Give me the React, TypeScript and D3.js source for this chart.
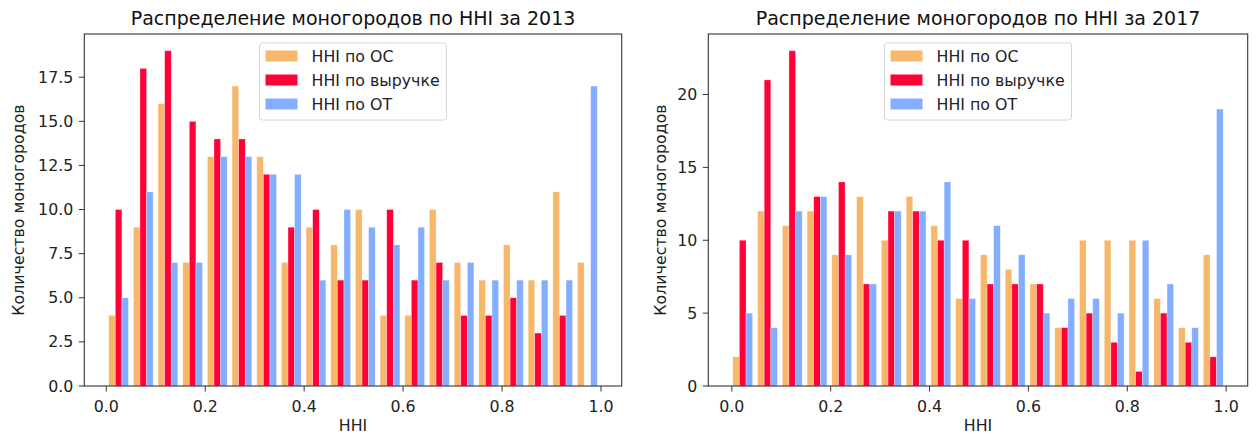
// Two side-by-side histograms of HHI distribution across single-industry towns (2013 vs 2017)

import React from 'react';
import * as d3 from 'd3';

// series names and colours, shared by both panels
const seriesNames = ['HHI по ОС', 'HHI по выручке', 'HHI по ОТ'];
const seriesColors = ['#F6B76B', '#FF0037', '#85ADFF'];

// 2013 panel: counts per bin (20 bins)
const os2013 = [4, 9, 16, 7, 13, 17, 13, 7, 9, 8, 10, 4, 4, 10, 7, 6, 8, 6, 11, 7];
const revenue2013 = [10, 18, 19, 15, 14, 14, 12, 9, 10, 6, 6, 10, 6, 7, 4, 4, 5, 3, 4, 0];
const labor2013 = [5, 11, 7, 7, 13, 13, 12, 12, 6, 10, 9, 8, 9, 6, 7, 6, 6, 6, 6, 17];
const binRange2013 = [0, 0.9975];
const yTicks2013 = [0, 2.5, 5, 7.5, 10, 12.5, 15, 17.5];

// 2017 panel
const os2017 = [2, 12, 11, 12, 9, 13, 10, 13, 11, 6, 9, 8, 7, 4, 10, 10, 10, 6, 4, 9];
const revenue2017 = [10, 21, 23, 13, 14, 7, 12, 12, 10, 10, 7, 7, 7, 4, 5, 3, 1, 5, 3, 2];
const labor2017 = [5, 4, 12, 13, 9, 7, 12, 12, 14, 6, 11, 9, 5, 6, 6, 5, 10, 7, 4, 19];
const binRange2017 = [-0.003, 0.999];
const yTicks2017 = [0, 5, 10, 15, 20];

const xTicks = [0, 0.2, 0.4, 0.6, 0.8, 1.0];

const FONT = '"DejaVu Sans", sans-serif';
const FS = 15.8; // 10pt at the figure's dpi
const width = 1257, height = 434;

type PanelProps = {
  title: string;
  series: number[][];
  binRange: number[];
  yTicks: number[];
  yFormat: (v: number) => string;
  left: number;
  right: number;
  yLabelX: number;
};

const Panel = ({ title, series, binRange, yTicks, yFormat, left, right, yLabelX }: PanelProps) => {
  const top = 34, bottom = 386;
  const nBins = series[0].length;
  const bw = (binRange[1] - binRange[0]) / nBins;
  const barW = (0.8 * bw) / series.length;

  // matplotlib autoscale: bar extents plus 5% margins
  const dataMin = binRange[0] + 0.1 * bw;
  const dataMax = binRange[1] - 0.1 * bw;
  const pad = 0.05 * (dataMax - dataMin);
  const x = d3.scaleLinear().domain([dataMin - pad, dataMax + pad]).range([left, right]);

  const yMax = d3.max(series, s => d3.max(s)) as number;
  const y = d3.scaleLinear().domain([0, yMax * 1.05]).range([bottom, top]);

  const cx = (left + right) / 2;
  const legendW = 187, legendH = 77;
  const lx = cx - legendW / 2, ly = 43;

  return (
    <g fontFamily={FONT}>
      {/* bars */}
      {series.map((s, k) =>
        s.map((v, i) => {
          const x0 = binRange[0] + i * bw + 0.1 * bw + k * barW;
          const px0 = x(x0), px1 = x(x0 + barW);
          return v > 0 ? (
            <rect key={`${k}-${i}`} x={px0} y={y(v)} width={px1 - px0} height={bottom - y(v)}
              fill={seriesColors[k]} stroke="#fff" strokeOpacity={0.5} strokeWidth={0.6} />
          ) : null;
        })
      )}
      {/* spines */}
      <rect x={left} y={top} width={right - left} height={bottom - top} fill="none" stroke="#333" strokeWidth={1.1} />
      {/* x ticks */}
      {xTicks.map(t => (
        <g key={t} transform={`translate(${x(t)},${bottom})`}>
          <line y2={5.5} stroke="#333" />
          <text y={25.5} textAnchor="middle" fontSize={FS} fill="#222">{t.toFixed(1)}</text>
        </g>
      ))}
      {/* y ticks */}
      {yTicks.map(t => (
        <g key={t} transform={`translate(${left},${y(t)})`}>
          <line x2={-5.5} stroke="#333" />
          <text x={-11} dy="0.35em" textAnchor="end" fontSize={FS} fill="#222">{yFormat(t)}</text>
        </g>
      ))}
      {/* title and axis labels */}
      <text x={cx} y={top - 9.5} textAnchor="middle" fontSize={19} fill="#111">{title}</text>
      <text x={cx} y={431} textAnchor="middle" fontSize={FS} fill="#222">HHI</text>
      <text transform={`translate(${yLabelX},${(top + bottom) / 2}) rotate(-90)`} dy="0.35em"
        textAnchor="middle" fontSize={FS} fill="#222">Количество моногородов</text>
      {/* legend */}
      <rect x={lx} y={ly} width={legendW} height={legendH} rx={3} fill="#fff" fillOpacity={0.8} stroke="#d6d6d6" />
      {seriesNames.map((name, k) => (
        <g key={name} transform={`translate(${lx + 6},${ly + 13 + k * 24})`}>
          <rect y={-5.5} width={32} height={11} fill={seriesColors[k]} />
          <text x={46} dy="0.35em" fontSize={FS} fill="#222">{name}</text>
        </g>
      ))}
    </g>
  );
};

export default function App() {
  return (
    <svg width={width} height={height} style={{ position: 'absolute', left: 0, top: 0, background: '#fff' }}>
      <Panel title="Распределение моногородов по HHI за 2013"
        series={[os2013, revenue2013, labor2013]} binRange={binRange2013}
        yTicks={yTicks2013} yFormat={v => v.toFixed(1)} left={84.3} right={621.7} yLabelX={18} />
      <Panel title="Распределение моногородов по HHI за 2017"
        series={[os2017, revenue2017, labor2017]} binRange={binRange2017}
        yTicks={yTicks2017} yFormat={v => String(v)} left={708.3} right={1247.7} yLabelX={660} />
    </svg>
  );
}
